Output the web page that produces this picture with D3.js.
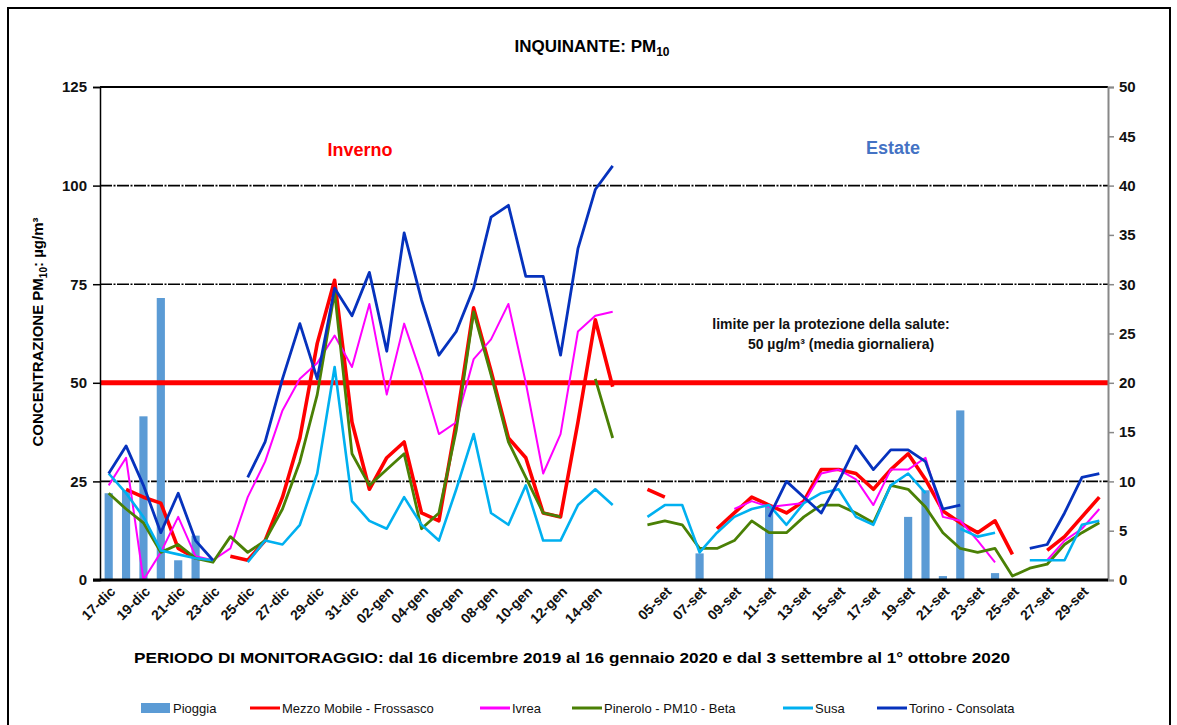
<!DOCTYPE html>
<html>
<head>
<meta charset="utf-8">
<script src="https://cdn.jsdelivr.net/npm/d3@7"></script>
<style>
  body { margin: 0; background: #fff; }
  svg text { font-family: "Liberation Sans", Arial, sans-serif; }
</style>
</head>
<body>
<svg id="chart" width="1177" height="725"></svg>
<script>
// categories: 17 dic - 15 gen, one blank spacer, 04 set - 30 set
const days = [
  "17-dic","18-dic","19-dic","20-dic","21-dic","22-dic","23-dic","24-dic","25-dic","26-dic",
  "27-dic","28-dic","29-dic","30-dic","31-dic","01-gen","02-gen","03-gen","04-gen","05-gen",
  "06-gen","07-gen","08-gen","09-gen","10-gen","11-gen","12-gen","13-gen","14-gen","15-gen",
  "",
  "04-set","05-set","06-set","07-set","08-set","09-set","10-set","11-set","12-set","13-set",
  "14-set","15-set","16-set","17-set","18-set","19-set","20-set","21-set","22-set","23-set",
  "24-set","25-set","26-set","27-set","28-set","29-set","30-set"
];

const leftTicks = [0, 25, 50, 75, 100, 125];
const rightTicks = [0, 5, 10, 15, 20, 25, 30, 35, 40, 45, 50];

// rain, mm (right axis)
const pioggia = [
  8.8, 9.1, 16.6, 28.6, 2, 4.5, null, null, null, null,
  null, null, null, null, null, null, null, null, null, null,
  null, null, null, null, null, null, null, null, null, null,
  null,
  null, null, null, 2.7, null, null, null, 7.6, null, null,
  null, null, null, null, null, 6.4, 9.1, 0.4, 17.2, 0.1,
  0.7, null, null, null, null, null, null
];

const frossasco = [
  null, 23, 21, 19.5, 8, 5.5, null, 6, 5, 10,
  21, 36, 60, 76, 40, 23, 31, 35, 17, 15,
  40, 69, 53, 36, 31, 17, 16, 40, 66, 49,
  null,
  23, 21, null, null, 13, 17, 21, 19, 17,
  20, 28, 28, 27, 23, 28, 32, 25.5, 17.5, 14.5,
  12, 15, 6.5, null, 7.5, 11, 16, 21
];

const ivrea = [
  24, 31, 0, 7, 16, 6, 5, 8, 21, 30,
  43, 51, 55, 62, 54, 70, 47, 65, 52, 37,
  40, 56, 61, 70, 50, 27, 37, 63, 67, 68,
  null,
  null, null, null, null, null, 18, 20, 18.5, 19,
  19.5, 27, 28, 25.5, 19, 28, 28, 31, 16, 15,
  10, 4.5, null, null, 5, 10, 13, 18
];

const pinerolo = [
  22, 18, 14.5, 7, 9, 5.5, 4.5, 11, 7, 10,
  18, 30, 47, 73, 32, 24, 28, 32, 13, 17,
  38, 68, 52, 35, 26, 17, 16, null, 51, 36,
  null,
  14, 15, 14, 8, 8, 10, 15, 12, 12,
  16, 19, 19, 17, 14.5, 24, 23, 18.5, 12, 8,
  7, 8, 1, 3, 4, 9, 12, 14.5
];

const susa = [
  27, 22, 16, 7.5, 6.5, 5.5, 5, null, 4.5, 10,
  9, 14, 27, 54, 20, 15, 13, 21, 14, 10,
  23, 37, 17, 14, 24, 10, 10, 19, 23, 19,
  null,
  16, 19, 19, 7, 12, 16, 18, 19, 14,
  19.5, 22, 23, 16, 14, 24, 27, 22, null, 13,
  11, 12, null, 5, 5, 5, 14, 15
];

const torino = [
  27, 34, 24, 12, 22, 10, 5, null, 26, 35,
  51, 65, 51, 74, 67, 78, 58, 88, 71, 57,
  63, 74, 92, 95, 77, 77, 57, 84, 99, 105,
  null,
  null, null, null, null, null, null, null, 16, 25,
  21, 17, 25, 34, 28, 33, 33, 30, 18, 19,
  null, null, null, 8, 9, 17, 26, 27
];

const series = [
  { name: "Mezzo Mobile - Frossasco", values: frossasco, color: "#ff0000", width: 3.6 },
  { name: "Ivrea", values: ivrea, color: "#ff00ff", width: 2 },
  { name: "Pinerolo - PM10 - Beta", values: pinerolo, color: "#4a8005", width: 2.8 },
  { name: "Susa", values: susa, color: "#00b0f0", width: 2.6 },
  { name: "Torino - Consolata", values: torino, color: "#0632bd", width: 2.8 }
];
const barColor = "#5b9bd5";

const svg = d3.select("#chart");
const plotL = 100, plotR = 1108, plotT = 87, plotB = 580;

// outer frame
svg.append("rect")
  .attr("x", 8).attr("y", 8).attr("width", 1162).attr("height", 730)
  .attr("fill", "none").attr("stroke", "#000").attr("stroke-width", 2);

const keys = days.map((d, i) => i);
const x = d3.scaleBand().domain(keys).range([plotL, plotR]);
const cx = i => x(i) + x.bandwidth() / 2;
const y = d3.scaleLinear().domain([0, 125]).range([plotB, plotT]);
const y2 = d3.scaleLinear().domain([0, 50]).range([plotB, plotT]);

// gridlines
svg.append("g").selectAll("line")
  .data([25, 75, 100])
  .join("line")
  .attr("x1", plotL).attr("x2", plotR)
  .attr("y1", d => y(d)).attr("y2", d => y(d))
  .attr("stroke", "#000").attr("stroke-width", 1.6)
  .attr("stroke-dasharray", "12,1.5,2,1.5");

// top border of plot
svg.append("line")
  .attr("x1", plotL).attr("x2", plotR).attr("y1", plotT).attr("y2", plotT)
  .attr("stroke", "#000").attr("stroke-width", 2);

// rain bars
const barW = x.bandwidth() * 0.47;
svg.append("g").selectAll("rect")
  .data(pioggia.map((v, i) => ({ i, v })).filter(d => d.v != null))
  .join("rect")
  .attr("x", d => cx(d.i) - barW / 2)
  .attr("width", barW)
  .attr("y", d => y2(d.v))
  .attr("height", d => plotB - y2(d.v))
  .attr("fill", barColor);

// limit line 50
svg.append("line")
  .attr("x1", plotL).attr("x2", plotR).attr("y1", y(50)).attr("y2", y(50))
  .attr("stroke", "#ff0000").attr("stroke-width", 5);

// series lines
const line = d3.line()
  .defined(d => d.v != null)
  .x(d => cx(d.i))
  .y(d => y(d.v));

svg.append("g").selectAll("path")
  .data(series)
  .join("path")
  .attr("fill", "none")
  .attr("stroke", s => s.color)
  .attr("stroke-width", s => s.width)
  .attr("stroke-linejoin", "round")
  .attr("d", s => line(s.values.map((v, i) => ({ i, v }))));

// left axis
const axL = svg.append("g")
  .attr("transform", `translate(${plotL},0)`)
  .call(d3.axisLeft(y).tickValues(leftTicks).tickSize(7).tickPadding(6));
axL.select(".domain").attr("stroke", "#000").attr("stroke-width", 1.5);
axL.selectAll(".tick line").attr("stroke", "#000").attr("stroke-width", 1.5);
axL.selectAll("text").attr("font-size", 15).attr("font-weight", "bold").attr("fill", "#111");

// right axis
const axR = svg.append("g")
  .attr("transform", `translate(${plotR},0)`)
  .call(d3.axisRight(y2).tickValues(rightTicks).tickSize(6).tickPadding(5));
axR.select(".domain").attr("stroke", "#888").attr("stroke-width", 2);
axR.selectAll(".tick line").attr("stroke", "#888").attr("stroke-width", 1.5);
axR.selectAll("text").attr("font-size", 15).attr("font-weight", "bold").attr("fill", "#111");

// bottom axis line
svg.append("line")
  .attr("x1", plotL - 7).attr("x2", plotR).attr("y1", plotB).attr("y2", plotB)
  .attr("stroke", "#000").attr("stroke-width", 3);

// x tick labels, every other day
svg.append("g").selectAll("text")
  .data(days.map((d, i) => ({ d, i })).filter(o => o.i % 2 === 0 && o.d !== ""))
  .join("text")
  .attr("transform", o => `translate(${cx(o.i) + 4},${plotB + 9}) rotate(-45)`)
  .attr("text-anchor", "end")
  .attr("dy", "0.35em")
  .attr("font-size", 14)
  .attr("font-weight", "bold")
  .attr("fill", "#111")
  .text(o => o.d);

// title
const title = svg.append("text")
  .attr("x", 592).attr("y", 52)
  .attr("text-anchor", "middle")
  .attr("font-size", 17).attr("font-weight", "bold");
title.append("tspan").text("INQUINANTE: PM");
title.append("tspan").attr("font-size", 12).attr("dy", 4).text("10");

// x axis title
svg.append("text")
  .attr("x", 572).attr("y", 663)
  .attr("text-anchor", "middle")
  .attr("font-size", 15).attr("font-weight", "bold")
  .attr("textLength", 876).attr("lengthAdjust", "spacingAndGlyphs")
  .text("PERIODO DI MONITORAGGIO: dal 16 dicembre 2019 al 16 gennaio 2020 e dal 3 settembre al 1° ottobre 2020");

// y axis title
const yt = svg.append("text")
  .attr("transform", "translate(43,332) rotate(-90)")
  .attr("text-anchor", "middle")
  .attr("font-size", 15).attr("font-weight", "bold");
yt.append("tspan").text("CONCENTRAZIONE PM");
yt.append("tspan").attr("font-size", 10).attr("dy", 4).text("10");
yt.append("tspan").attr("dy", -4).text(": µg/m³");

// annotations
svg.append("text")
  .attr("x", 360).attr("y", 156).attr("text-anchor", "middle")
  .attr("font-size", 18).attr("font-weight", "bold").attr("fill", "#ff0000")
  .text("Inverno");
svg.append("text")
  .attr("x", 893).attr("y", 154).attr("text-anchor", "middle")
  .attr("font-size", 18).attr("font-weight", "bold").attr("fill", "#4472c4")
  .text("Estate");
svg.append("text")
  .attr("x", 831).attr("y", 329).attr("text-anchor", "middle")
  .attr("font-size", 14).attr("font-weight", "bold").attr("fill", "#111")
  .text("limite per la protezione della salute:");
svg.append("text")
  .attr("x", 841).attr("y", 349).attr("text-anchor", "middle")
  .attr("font-size", 14).attr("font-weight", "bold").attr("fill", "#111")
  .text("50 µg/m³ (media giornaliera)");

// legend
const legendItems = [
  { name: "Pioggia", color: barColor, bar: true, x: 141 },
  { name: series[0].name, color: series[0].color, x: 250 },
  { name: series[1].name, color: series[1].color, x: 480 },
  { name: series[2].name, color: series[2].color, x: 572 },
  { name: series[3].name, color: series[3].color, x: 783 },
  { name: series[4].name, color: series[4].color, x: 877 }
];
const lg = svg.append("g").selectAll("g")
  .data(legendItems)
  .join("g")
  .attr("transform", d => `translate(${d.x},708)`);
lg.filter(d => d.bar).append("rect")
  .attr("x", 0).attr("y", -5).attr("width", 29).attr("height", 10)
  .attr("fill", d => d.color);
lg.filter(d => !d.bar).append("line")
  .attr("x1", 0).attr("x2", 30).attr("y1", 0).attr("y2", 0)
  .attr("stroke", d => d.color).attr("stroke-width", 3);
lg.append("text")
  .attr("x", 32).attr("dy", "0.35em")
  .attr("font-size", 13).attr("fill", "#111")
  .text(d => d.name);
</script>
</body>
</html>
